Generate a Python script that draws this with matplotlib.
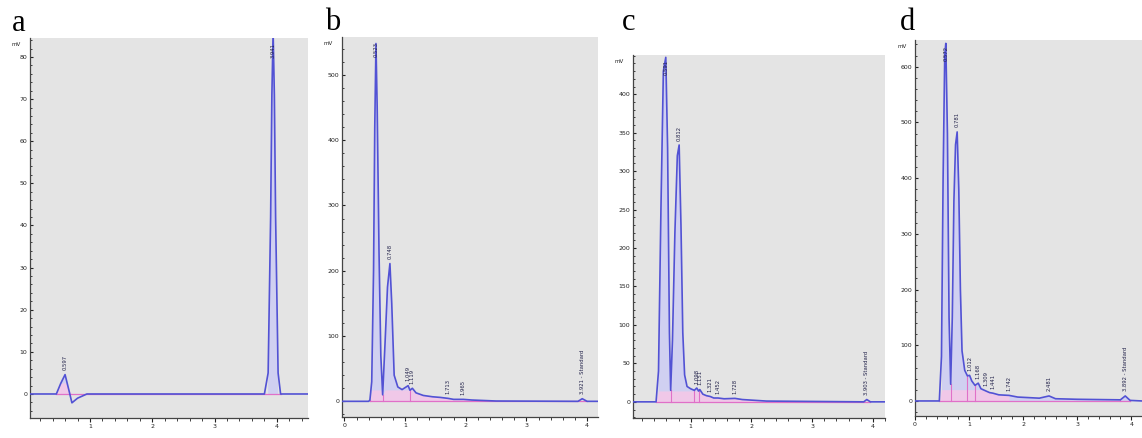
import numpy as np
import matplotlib
matplotlib.use("Agg")
import matplotlib.pyplot as plt
from matplotlib.ticker import MultipleLocator, AutoMinorLocator


########## Data ##########

## panel a (time in min, signal in mV)
a_time = [0.03, 0.46, 0.53, 0.60, 0.66, 0.71, 0.80, 0.95, 3.80, 3.86, 3.90, 3.92,
          3.94, 3.96, 3.98, 4.02, 4.06, 4.50]
a_signal = [0, 0, 2.5, 4.6, 1.0, -2.1, -1.0, 0, 0, 5, 42, 71, 86, 71, 42, 5, 0, 0]
a_peaks = [0.60, 3.94]
a_labels = ["0.597", "3.941"]
a_drops = [0.46, 0.95, 3.80, 4.06]

## panel b
b_time = [-0.04, 0.40, 0.42, 0.45, 0.48, 0.50, 0.52, 0.54, 0.57, 0.60, 0.63, 0.67,
          0.71, 0.75, 0.78, 0.82, 0.88, 0.95, 1.05, 1.08, 1.12, 1.18, 1.30, 1.45,
          1.58, 1.71, 1.80, 1.96, 2.10, 2.50, 3.85, 3.92, 4.00, 4.18]
b_signal = [0, 0, 2, 30, 200, 420, 548, 450, 230, 70, 10, 90, 175, 211, 150, 40,
            22, 18, 24, 17, 20, 13, 9, 7, 6, 4.5, 3, 3, 2, 0.5, 0, 4, 0, 0]
b_peaks = [0.52, 0.75, 1.05, 1.12, 1.71, 1.96, 3.92]
b_labels = ["0.523", "0.748", "1.049", "1.119", "1.713", "1.965", "3.921 - Standard"]
b_drops = [0.42, 0.63, 1.08, 3.85, 4.00]

## panel c
c_time = [0.05, 0.43, 0.47, 0.51, 0.55, 0.59, 0.62, 0.65, 0.67, 0.70, 0.74, 0.78,
          0.81, 0.84, 0.87, 0.90, 0.94, 1.00, 1.06, 1.10, 1.13, 1.15, 1.20, 1.26,
          1.32, 1.38, 1.45, 1.55, 1.73, 1.85, 2.25, 3.85, 3.90, 3.96, 4.20]
c_signal = [0, 0, 40, 250, 430, 448, 330, 90, 15, 80, 220, 320, 334, 230, 90, 35,
            20, 17, 15, 18, 14, 16, 10, 8, 7, 5, 5, 4, 4.5, 3, 1, 0, 3, 0, 0]
c_peaks = [0.59, 0.81, 1.10, 1.15, 1.32, 1.45, 1.73, 3.90]
c_labels = ["0.591", "0.812", "1.098", "1.151", "1.321", "1.452", "1.728",
            "3.903 - Standard"]
c_drops = [0.43, 0.67, 1.06, 1.13, 3.85, 3.96]

## panel d
d_time = [0.0, 0.45, 0.49, 0.52, 0.55, 0.57, 0.60, 0.63, 0.66, 0.69, 0.72, 0.75,
          0.78, 0.81, 0.84, 0.87, 0.92, 0.97, 1.01, 1.05, 1.11, 1.17, 1.22, 1.31,
          1.38, 1.44, 1.55, 1.74, 1.90, 2.30, 2.48, 2.60, 3.00, 3.80, 3.89, 3.98, 4.20]
d_signal = [0, 0, 80, 400, 620, 642, 480, 150, 30, 150, 360, 460, 483, 380, 200,
            90, 55, 45, 46, 36, 28, 32, 22, 18, 15, 14, 11, 10, 7, 5, 9, 4, 3, 2,
            9, 1, 0]
d_peaks = [0.57, 0.78, 1.01, 1.17, 1.31, 1.44, 1.74, 2.48, 3.89]
d_labels = ["0.572", "0.781", "1.012", "1.168", "1.309", "1.441", "1.742",
            "2.481", "3.892 - Standard"]
d_drops = [0.45, 0.66, 0.97, 1.11, 3.80, 3.98]

## end of the pink integrated region near the baseline (min)
pink_end = [1.0, 2.4, 2.3, 1.8]

panel_letters = ["a", "b", "c", "d"]
y_steps = [10, 100, 50, 100]


## colours of the chromatography software
LINE_C = "#5252d4"
FILL_C = "#cdcdf4"
PINK_C = "#e070c8"
PINK_FILL = "#f4c8e8"
BG_C = "#e4e4e4"


## Draw one chromatogram into ax
def plotChromatogram(ax, t, s, peaks, labels, drops, xlim, ylim, step, p_end):
    t = np.array(t, dtype=float); s = np.array(s, dtype=float)
    ax.set_facecolor(BG_C)
    top = ylim[1]; span = ylim[1] - ylim[0]

    ax.fill_between(t, 0, s, where=s > 0, color=FILL_C, alpha=0.85, lw=0, zorder=1)
    # pink band at the foot of the peak cluster
    band = np.minimum(np.clip(s, 0, None), 0.03*span)
    ax.fill_between(t, 0, band, where=(t >= drops[0]) & (t <= p_end),
                    color=PINK_FILL, alpha=0.9, lw=0, zorder=1.5)
    # integration baseline + drop lines
    ax.plot([drops[0], drops[-1]], [0, 0], color=PINK_C, lw=0.9, zorder=2)
    for dt in drops:
        ax.plot([dt, dt], [0, np.interp(dt, t, s)], color=PINK_C, lw=0.8, zorder=2)
    ax.plot(t, s, color=LINE_C, lw=1.2, zorder=3)

    for pt, lab in zip(peaks, labels):
        h = np.interp(pt, t, s)
        if h > 0.75*top: # no room above the big peaks
            ax.text(pt, top*0.985, lab, rotation=90, ha="center", va="top",
                    fontsize=3.8, color="#22224a", zorder=4)
        else:
            ax.text(pt, h + 0.012*span, lab, rotation=90, ha="center", va="bottom",
                    fontsize=3.8, color="#22224a", zorder=4)

    ax.set_xlim(xlim); ax.set_ylim(ylim)
    ax.xaxis.set_major_locator(MultipleLocator(1))
    ax.xaxis.set_minor_locator(AutoMinorLocator(5))
    ax.yaxis.set_major_locator(MultipleLocator(step))
    ax.yaxis.set_minor_locator(AutoMinorLocator(5))
    ax.tick_params(axis="y", which="both", direction="in", labelsize=4.5,
                   colors="#222222", length=2.5, pad=2)
    ax.tick_params(axis="y", which="minor", length=1.5)
    ax.tick_params(axis="x", which="both", direction="out", labelsize=4.5,
                   colors="#222222", length=3, pad=1)
    ax.tick_params(axis="x", which="minor", length=1.8)

    # drop tick labels that fall out of range, put unit on top
    yt = [v for v in ax.get_yticks() if ylim[0] <= v <= ylim[1] - 0.03*span]
    ax.set_yticks(yt)
    ax.set_yticklabels([f"{int(v)}" for v in yt])
    ax.text(-0.035, 0.99, "mV", transform=ax.transAxes, ha="right", va="top",
            fontsize=4, color="#222222")

    for side in ["top", "right"]:
        ax.spines[side].set_visible(False)
    for side in ["left", "bottom"]:
        ax.spines[side].set_color("#444444"); ax.spines[side].set_linewidth(0.9)
    return


fig = plt.figure(figsize=(11.42, 4.38), dpi=100)
W, H = 1142, 438

## axes boxes in pixels (left, right, top, bottom)
boxes = [(30, 308, 38, 418), (342, 598, 37, 417), (633, 885, 55, 418), (915, 1142, 40, 416)]
letter_pos = [(12, 31), (325, 30), (622, 30), (900, 30)]

datasets = [(a_time, a_signal, a_peaks, a_labels, a_drops, (0.037, 4.5), (-5.7, 84.5)),
            (b_time, b_signal, b_peaks, b_labels, b_drops, (-0.04, 4.18), (-24, 558)),
            (c_time, c_signal, c_peaks, c_labels, c_drops, (0.05, 4.2), (-21, 451)),
            (d_time, d_signal, d_peaks, d_labels, d_drops, (0.0, 4.2), (-27, 648))]

for i in range(4):
    l, r, tp, bt = boxes[i]
    ax = fig.add_axes([l/W, 1 - bt/H, (r - l)/W, (bt - tp)/H])
    t, s, pk, lb, dr, xl, yl = datasets[i]
    plotChromatogram(ax, t, s, pk, lb, dr, xl, yl, y_steps[i], pink_end[i])
    fig.text(letter_pos[i][0]/W, 1 - letter_pos[i][1]/H, panel_letters[i],
             fontsize=22, family="Liberation Serif", va="baseline", ha="left")

fig.savefig("out.png", dpi=100, facecolor="white")
